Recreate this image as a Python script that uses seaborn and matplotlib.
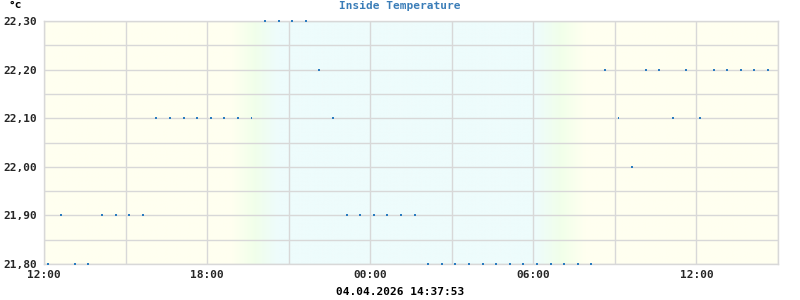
import numpy as np
import pandas as pd
import matplotlib
matplotlib.use("Agg")
import matplotlib.pyplot as plt
import matplotlib.dates as mdates
from matplotlib.ticker import MultipleLocator, FixedLocator
import seaborn as sns

# ---- data ----
title = "Inside Temperature"
unit_label = "°c"
timestamp_text = "04.04.2026 14:37:53"

day1_times = ["12:08", "12:38", "13:08", "13:38", "14:08", "14:38", "15:08", "15:38",
              "16:08", "16:38", "17:08", "17:38", "18:08", "18:38", "19:08", "19:38",
              "20:08", "20:38", "21:08", "21:38", "22:08", "22:38", "23:08", "23:38"]
day2_times = ["00:08", "00:38", "01:08", "01:38", "02:08", "02:38", "03:08", "03:38",
              "04:08", "04:38", "05:08", "05:38", "06:08", "06:38", "07:08", "07:38",
              "08:08", "08:38", "09:08", "09:38", "10:08", "10:38", "11:08", "11:38",
              "12:08", "12:38", "13:08", "13:38", "14:08", "14:37"]
temperature = [21.8, 21.9, 21.8, 21.8, 21.9, 21.9, 21.9, 21.9,
               22.1, 22.1, 22.1, 22.1, 22.1, 22.1, 22.1, 22.1,
               22.3, 22.3, 22.3, 22.3, 22.2, 22.1, 21.9, 21.9,
               21.9, 21.9, 21.9, 21.9, 21.8, 21.8, 21.8, 21.8,
               21.8, 21.8, 21.8, 21.8, 21.8, 21.8, 21.8, 21.8,
               21.8, 22.2, 22.1, 22.0, 22.2, 22.2, 22.1, 22.2,
               22.1, 22.2, 22.2, 22.2, 22.2, 22.2]
y_ticks = [21.8, 21.9, 22.0, 22.1, 22.2, 22.3]
y_tick_labels = ["21,80", "21,90", "22,00", "22,10", "22,20", "22,30"]
x_start = "2026-04-03 12:00"
x_end = "2026-04-04 15:00"
sunset = ("2026-04-03 18:55", "2026-04-03 20:35")
sunrise = ("2026-04-04 06:05", "2026-04-04 07:55")

times = pd.to_datetime(["2026-04-03 " + t for t in day1_times] +
                       ["2026-04-04 " + t for t in day2_times])
df = pd.DataFrame({"time": times, "temp": temperature})

# ---- figure ----
sns.set_style("white")
plt.rcParams["font.family"] = ["DejaVu Sans Mono", "DejaVu Sans"]
fig = plt.figure(figsize=(8, 3), dpi=100)
ax = fig.add_axes([44 / 800, 1 - 264 / 300, (778 - 44) / 800, (264 - 21) / 300])

xs = pd.Timestamp(x_start)
xe = pd.Timestamp(x_end)
x0, x1 = mdates.date2num(xs), mdates.date2num(xe)

# background day/night gradient
yellow = np.array([255, 255, 240]) / 255
green = np.array([241, 255, 234]) / 255
cyan = np.array([238, 252, 252]) / 255
N = 800
cols = np.linspace(x0, x1, N)
ss0, ss1 = mdates.date2num(pd.Timestamp(sunset[0])), mdates.date2num(pd.Timestamp(sunset[1]))
sr0, sr1 = mdates.date2num(pd.Timestamp(sunrise[0])), mdates.date2num(pd.Timestamp(sunrise[1]))

def blend(f):
    # f: 0 -> yellow (day), 1 -> cyan (night), via green
    if f < 0.5:
        return yellow + (green - yellow) * (f / 0.5)
    return green + (cyan - green) * ((f - 0.5) / 0.5)

img = np.zeros((1, N, 3))
for i, c in enumerate(cols):
    if c < ss0:
        f = 0.0
    elif c < ss1:
        f = (c - ss0) / (ss1 - ss0)
    elif c < sr0:
        f = 1.0
    elif c < sr1:
        f = 1 - (c - sr0) / (sr1 - sr0)
    else:
        f = 0.0
    img[0, i] = blend(f)
ax.imshow(img, extent=[x0, x1, 21.8, 22.3], aspect="auto", zorder=0, interpolation="bilinear")

sns.scatterplot(data=df, x="time", y="temp", ax=ax, marker="s", s=2, color="#2a7bbf",
                edgecolor="none", linewidth=0, zorder=3, clip_on=False)

ax.set_xlim(x0, x1)
ax.set_ylim(21.8, 22.3)

ax.xaxis.set_major_locator(mdates.HourLocator(byhour=[0, 6, 12, 18]))
ax.xaxis.set_minor_locator(mdates.HourLocator(byhour=[3, 9, 15, 21]))
ax.xaxis.set_major_formatter(mdates.DateFormatter("%H:%M"))
ax.yaxis.set_major_locator(FixedLocator(y_ticks))
ax.set_yticklabels(y_tick_labels)
ax.yaxis.set_minor_locator(MultipleLocator(0.05))

ax.grid(True, which="both", color="#d8d8d8", linewidth=1.0, zorder=1)
ax.set_axisbelow(False)
for gl in ax.get_xgridlines() + ax.get_ygridlines():
    gl.set_zorder(1)
ax.tick_params(axis="both", which="both", length=0)
ax.tick_params(axis="x", pad=4, labelsize=8)
ax.tick_params(axis="y", pad=5, labelsize=8)
for lbl in ax.get_xticklabels() + ax.get_yticklabels():
    lbl.set_fontweight("bold")
for sp in ax.spines.values():
    sp.set_color("#d8d8d8")
    sp.set_linewidth(1.0)
ax.set_xlabel("")
ax.set_ylabel("")

fig.text(400 / 800, 1 - 6 / 300, title, ha="center", va="center", fontsize=8,
         fontweight="bold", color="#3a7db8")
fig.text(9 / 800, 1 - 5 / 300, unit_label, ha="left", va="center", fontsize=8,
         fontweight="bold", color="black")
fig.text(400 / 800, 1 - 292 / 300, timestamp_text, ha="center", va="center", fontsize=8,
         fontweight="bold", color="black")

fig.savefig("out.png", dpi=100, facecolor="white")
